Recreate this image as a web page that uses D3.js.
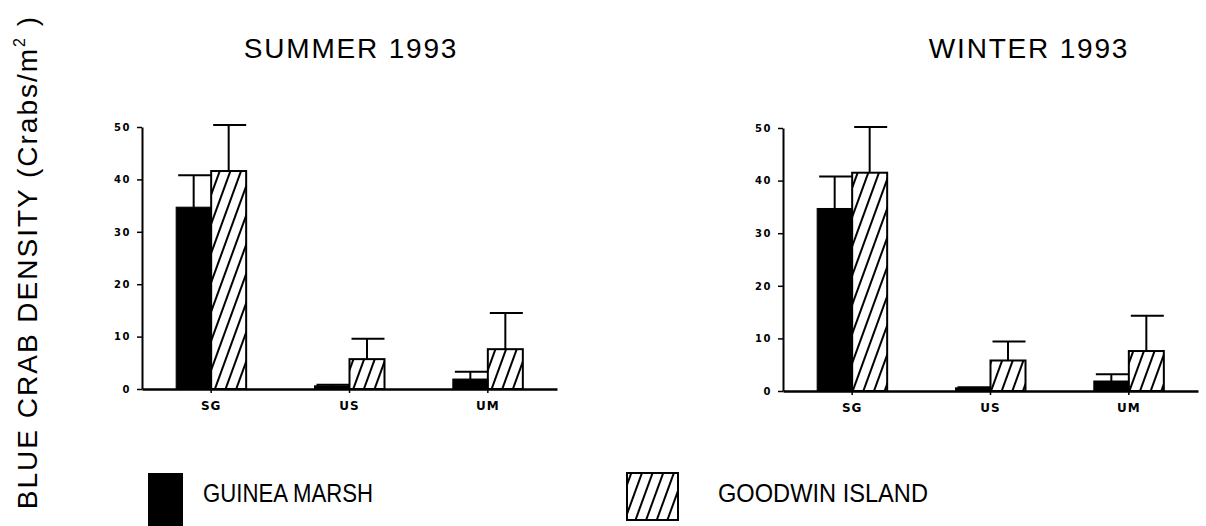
<!DOCTYPE html>
<html>
<head>
<meta charset="utf-8">
<script src="https://cdn.jsdelivr.net/npm/d3@7"></script>
<style>
  body { margin: 0; background: #fff; }
  svg { display: block; }
</style>
</head>
<body>
<script>
// datos
const categories = ['SG', 'US', 'UM'];
const yTicks = [0, 10, 20, 30, 40, 50];

const summerMarsh     = [34.7, 0.6, 1.9];
const summerMarshErr  = [6.1, 0.2, 1.4];
const summerGoodwin   = [41.6, 5.7, 7.6];
const summerGoodwinErr = [8.8, 3.9, 6.9];

const winterMarsh     = [34.7, 0.6, 1.9];
const winterMarshErr  = [6.1, 0.1, 1.3];
const winterGoodwin   = [41.5, 5.8, 7.6];
const winterGoodwinErr = [8.7, 3.6, 6.7];

const WIDTH = 1206, HEIGHT = 526;
const BAR_W = 35;

let svg = d3.select('body').append('svg')
    .attr('width', WIDTH)
    .attr('height', HEIGHT);

// patron de rayas diagonales
svg.append('defs').append('pattern')
    .attr('id', 'hatch')
    .attr('patternUnits', 'userSpaceOnUse')
    .attr('width', 10)
    .attr('height', 10)
    .attr('patternTransform', 'rotate(20)')
  .append('line')
    .attr('x1', 5).attr('y1', 0)
    .attr('x2', 5).attr('y2', 10)
    .attr('stroke', '#000')
    .attr('stroke-width', 2);

function panel(title, titleX, x0, x1, yBottom, yTop, marsh, marshErr, goodwin, goodwinErr) {
    let x = d3.scaleBand().domain(categories).range([x0, x1]).padding(0);
    let y = d3.scaleLinear().domain([0, 50]).range([yBottom, yTop]);
    let g = svg.append('g');

    svg.append('text')
        .attr('x', titleX).attr('y', 58)
        .attr('text-anchor', 'middle')
        .style('font-family', 'Liberation Sans')
        .style('font-size', '28px')
        .style('letter-spacing', '1.8px')
        .text(title);

    // eje y
    let ya = g.append('g')
        .attr('transform', `translate(${x0},0)`)
        .call(d3.axisLeft(y).tickValues(yTicks).tickSize(5).tickSizeOuter(0).tickPadding(6));
    ya.select('.domain').attr('stroke-width', 2);
    ya.selectAll('.tick line').attr('stroke-width', 1.5);
    ya.selectAll('.tick text')
        .style('font-family', 'DejaVu Sans')
        .style('font-weight', 'bold')
        .style('font-size', '10px')
        .style('letter-spacing', '1.5px');

    let cx = c => x(c) + x.bandwidth() / 2;

    // barras
    categories.forEach((c, i) => {
        g.append('rect')
            .attr('x', cx(c) - BAR_W).attr('y', y(marsh[i]))
            .attr('width', BAR_W).attr('height', y(0) - y(marsh[i]))
            .attr('fill', '#000').attr('stroke', '#000').attr('stroke-width', 1);
        g.append('rect')
            .attr('x', cx(c)).attr('y', y(goodwin[i]))
            .attr('width', BAR_W).attr('height', y(0) - y(goodwin[i]))
            .attr('fill', 'url(#hatch)').attr('stroke', '#000').attr('stroke-width', 2);

        // barras de error
        [[cx(c) - BAR_W / 2, marsh[i], marshErr[i]], [cx(c) + BAR_W / 2, goodwin[i], goodwinErr[i]]]
            .forEach(([bx, v, e]) => {
                g.append('line')
                    .attr('x1', bx).attr('x2', bx)
                    .attr('y1', y(v)).attr('y2', y(v + e))
                    .attr('stroke', '#000').attr('stroke-width', 2);
                g.append('line')
                    .attr('x1', bx - BAR_W / 2 + 2).attr('x2', bx + BAR_W / 2)
                    .attr('y1', y(v + e)).attr('y2', y(v + e))
                    .attr('stroke', '#000').attr('stroke-width', 2);
            });
    });

    // eje x
    let xa = g.append('g')
        .attr('transform', `translate(0,${yBottom})`)
        .call(d3.axisBottom(x).tickSize(4).tickSizeOuter(0).tickPadding(8));
    xa.select('.domain').attr('stroke-width', 2.5);
    xa.selectAll('.tick line').attr('stroke-width', 1.5);
    xa.selectAll('.tick text')
        .style('font-family', 'DejaVu Sans')
        .style('font-weight', 'bold')
        .style('font-size', '12px')
        .style('letter-spacing', '1px');
}

panel('SUMMER 1993', 351, 142, 557, 389, 127, summerMarsh, summerMarshErr, summerGoodwin, summerGoodwinErr);
panel('WINTER 1993', 1029, 783, 1198, 391, 128, winterMarsh, winterMarshErr, winterGoodwin, winterGoodwinErr);

// titulo del eje y
let yl = svg.append('text')
    .attr('transform', 'translate(37,262) rotate(-90)')
    .attr('text-anchor', 'middle')
    .style('font-family', 'Liberation Sans')
    .style('font-size', '28px')
    .style('letter-spacing', '2px');
yl.append('tspan').text('BLUE CRAB DENSITY  (Crabs/m');
yl.append('tspan').attr('dy', -12).style('font-size', '16px').text('2');
yl.append('tspan').attr('dy', 12).text(' )');

// leyenda
svg.append('rect')
    .attr('x', 148).attr('y', 473).attr('width', 35).attr('height', 53)
    .attr('fill', '#000');
svg.append('text')
    .attr('x', 203).attr('y', 502)
    .attr('textLength', 170).attr('lengthAdjust', 'spacingAndGlyphs')
    .style('font-family', 'Liberation Sans')
    .style('font-size', '26px')
    .text('GUINEA MARSH');

svg.append('rect')
    .attr('x', 627).attr('y', 473).attr('width', 51).attr('height', 47)
    .attr('fill', 'url(#hatch)').attr('stroke', '#000').attr('stroke-width', 2);
svg.append('text')
    .attr('x', 718).attr('y', 502)
    .attr('textLength', 210).attr('lengthAdjust', 'spacingAndGlyphs')
    .style('font-family', 'Liberation Sans')
    .style('font-size', '26px')
    .text('GOODWIN ISLAND');
</script>
</body>
</html>
